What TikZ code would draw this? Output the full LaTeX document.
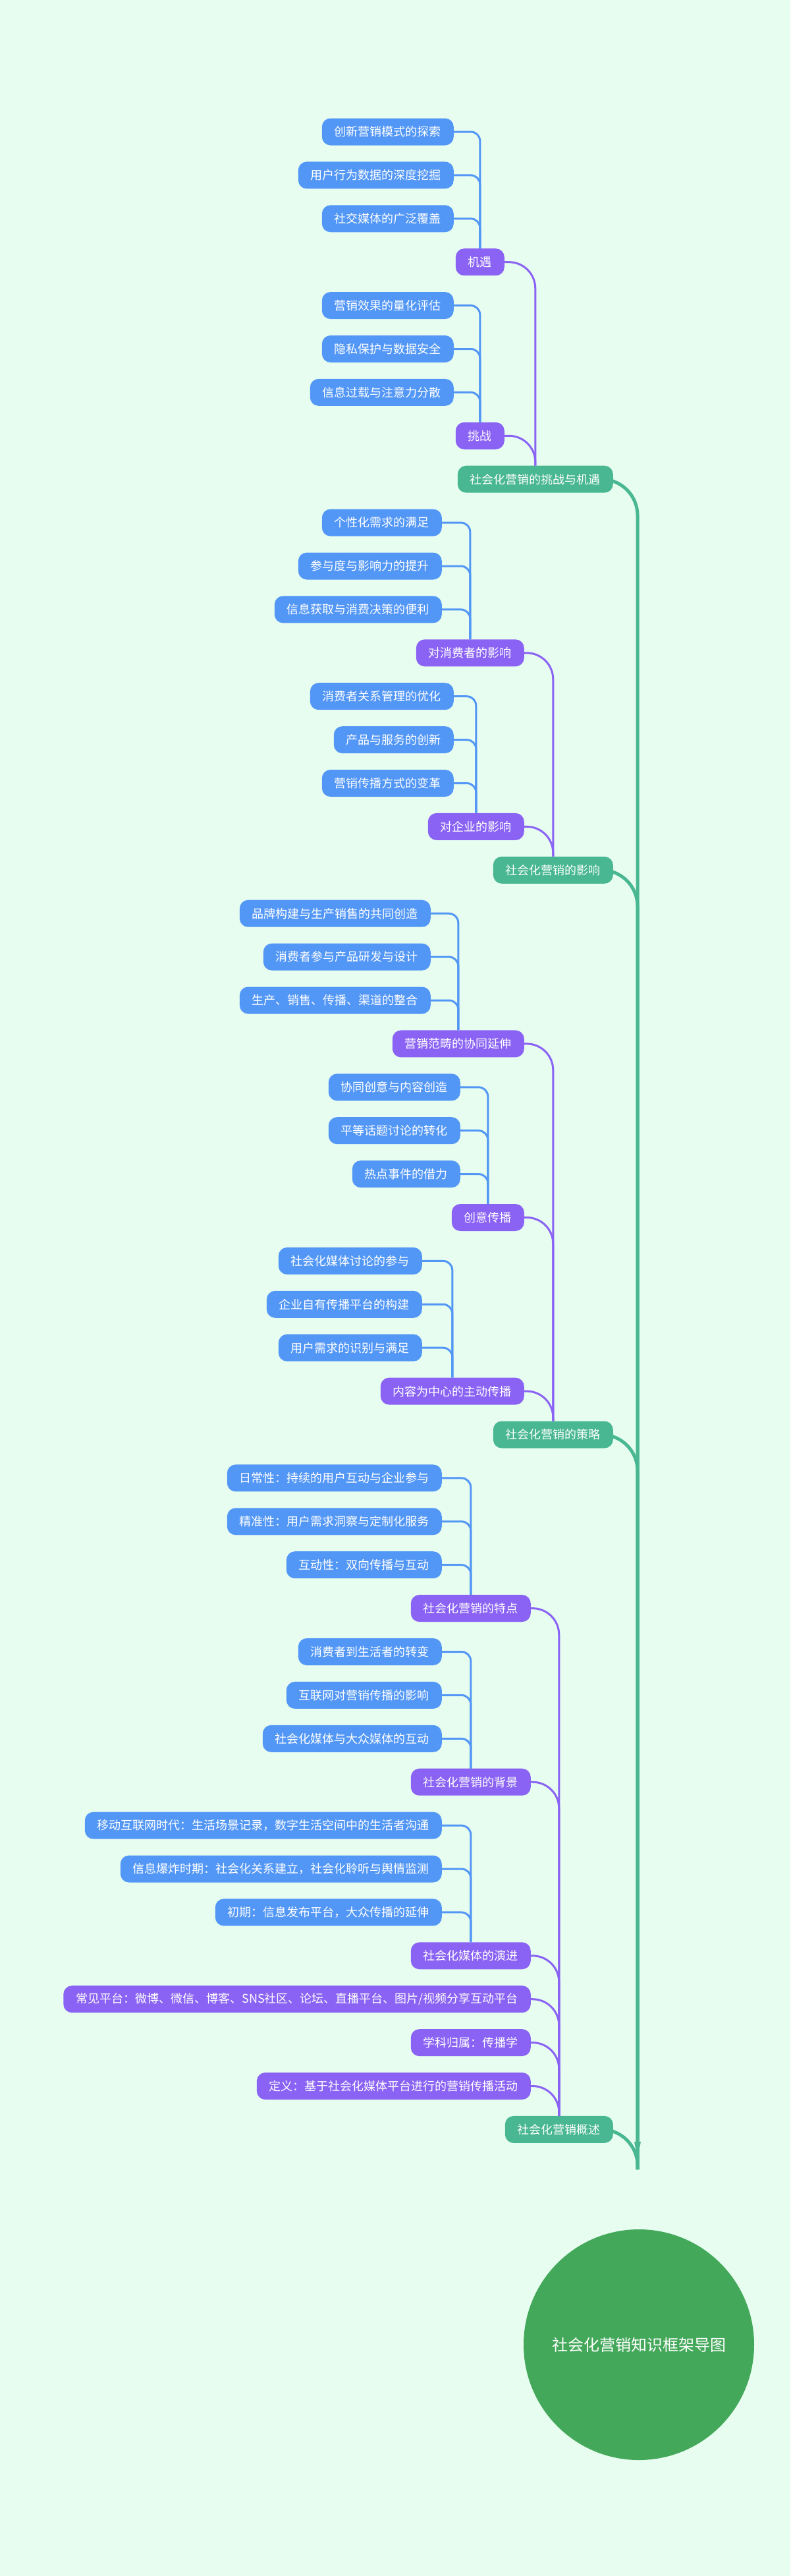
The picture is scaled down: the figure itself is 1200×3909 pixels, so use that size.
\documentclass[tikz,border=0pt]{standalone}
\usepackage{fontspec}
\setmainfont{Noto Sans CJK SC}
\definecolor{bg}{RGB}{231,253,240}
\definecolor{cblue}{RGB}{83,151,246}
\definecolor{cpur}{RGB}{138,99,244}
\definecolor{cteal}{RGB}{72,183,146}
\definecolor{croot}{RGB}{67,168,90}
\begin{document}
\begin{tikzpicture}[x=1pt,y=-1pt,
  box/.style={anchor=east,rounded corners=13pt,text=white,inner xsep=19pt,inner ysep=0pt,minimum height=41pt,font=\fontsize{18}{20}\selectfont},
  bl/.style={box,fill=cblue},
  pu/.style={box,fill=cpur},
  te/.style={box,fill=cteal},
  eb/.style={draw=cblue,line width=3pt,rounded corners=14pt},
  ep/.style={draw=cpur,line width=3pt,rounded corners=40pt},
  et/.style={draw=cteal,line width=5pt,rounded corners=55pt}]
\fill[bg] (0,0) rectangle (1200,3909);
\useasboundingbox (0,0) rectangle (1200,3909);
\def\Y#1{200+65.9*#1}
% group 1
\node[bl] (a1) at (689,{\Y0}) {创新营销模式的探索};
\node[bl] (a2) at (689,{\Y1}) {用户行为数据的深度挖掘};
\node[bl] (a3) at (689,{\Y2}) {社交媒体的广泛覆盖};
\node[pu] (A) at (766,{\Y3}) {机遇};
\node[bl] (b1) at (689,{\Y4}) {营销效果的量化评估};
\node[bl] (b2) at (689,{\Y5}) {隐私保护与数据安全};
\node[bl] (b3) at (689,{\Y6}) {信息过载与注意力分散};
\node[pu] (B) at (766,{\Y7}) {挑战};
\node[te] (T1) at (931,{\Y8}) {社会化营销的挑战与机遇};
% group 2
\node[bl] (c1) at (671,{\Y9}) {个性化需求的满足};
\node[bl] (c2) at (671,{\Y10}) {参与度与影响力的提升};
\node[bl] (c3) at (671,{\Y11}) {信息获取与消费决策的便利};
\node[pu] (C) at (796,{\Y12}) {对消费者的影响};
\node[bl] (d1) at (689,{\Y13}) {消费者关系管理的优化};
\node[bl] (d2) at (689,{\Y14}) {产品与服务的创新};
\node[bl] (d3) at (689,{\Y15}) {营销传播方式的变革};
\node[pu] (D) at (796,{\Y16}) {对企业的影响};
\node[te] (T2) at (931,{\Y17}) {社会化营销的影响};
% group 3
\node[bl] (e1) at (654,{\Y18}) {品牌构建与生产销售的共同创造};
\node[bl] (e2) at (654,{\Y19}) {消费者参与产品研发与设计};
\node[bl] (e3) at (654,{\Y20}) {生产、销售、传播、渠道的整合};
\node[pu] (E) at (796,{\Y21}) {营销范畴的协同延伸};
\node[bl] (f1) at (699,{\Y22}) {协同创意与内容创造};
\node[bl] (f2) at (699,{\Y23}) {平等话题讨论的转化};
\node[bl] (f3) at (699,{\Y24}) {热点事件的借力};
\node[pu] (F) at (796,{\Y25}) {创意传播};
\node[bl] (g1) at (641,{\Y26}) {社会化媒体讨论的参与};
\node[bl] (g2) at (641,{\Y27}) {企业自有传播平台的构建};
\node[bl] (g3) at (641,{\Y28}) {用户需求的识别与满足};
\node[pu] (G) at (796,{\Y29}) {内容为中心的主动传播};
\node[te] (T3) at (931,{\Y30}) {社会化营销的策略};
% group 4
\node[bl] (h1) at (671,{\Y31}) {日常性：持续的用户互动与企业参与};
\node[bl] (h2) at (671,{\Y32}) {精准性：用户需求洞察与定制化服务};
\node[bl] (h3) at (671,{\Y33}) {互动性：双向传播与互动};
\node[pu] (H) at (806,{\Y34}) {社会化营销的特点};
\node[bl] (i1) at (671,{\Y35}) {消费者到生活者的转变};
\node[bl] (i2) at (671,{\Y36}) {互联网对营销传播的影响};
\node[bl] (i3) at (671,{\Y37}) {社会化媒体与大众媒体的互动};
\node[pu] (I) at (806,{\Y38}) {社会化营销的背景};
\node[bl] (j1) at (671,{\Y39}) {移动互联网时代：生活场景记录，数字生活空间中的生活者沟通};
\node[bl] (j2) at (671,{\Y40}) {信息爆炸时期：社会化关系建立，社会化聆听与舆情监测};
\node[bl] (j3) at (671,{\Y41}) {初期：信息发布平台，大众传播的延伸};
\node[pu] (J) at (806,{\Y42}) {社会化媒体的演进};
\node[pu] (K) at (806,{\Y43}) {常见平台：微博、微信、博客、SNS社区、论坛、直播平台、图片/视频分享互动平台};
\node[pu] (L) at (806,{\Y44}) {学科归属：传播学};
\node[pu] (M) at (806,{\Y45}) {定义：基于社会化媒体平台进行的营销传播活动};
\node[te] (T4) at (931,{\Y46}) {社会化营销概述};
% root
\node[circle,fill=croot,minimum size=350pt,text=white,font=\fontsize{24}{28}\selectfont] (R) at (970,3558) {社会化营销知识框架导图};
\coordinate (tip) at (968,3272);
% edges blue
\foreach \c/\p in {a1/A,a2/A,a3/A,b1/B,b2/B,b3/B,c1/C,c2/C,c3/C,d1/D,d2/D,d3/D,e1/E,e2/E,e3/E,f1/F,f2/F,f3/F,g1/G,g2/G,g3/G,h1/H,h2/H,h3/H,i1/I,i2/I,i3/I,j1/J,j2/J,j3/J}
  \draw[eb] (\c.east) -| (\p.north);
% edges purple
\foreach \c/\p in {A/T1,B/T1,C/T2,D/T2,E/T3,F/T3,G/T3,H/T4,I/T4,J/T4,K/T4,L/T4,M/T4}
  \draw[ep] (\c.east) -| (\p.north);
% edges teal
\foreach \c in {T1,T2,T3,T4}
  \draw[et] (\c.east) -| ([yshift=-20pt]tip);
\fill[cteal] (963,3250) -- (973,3250) -- (968,3274) -- cycle;
\end{tikzpicture}
\end{document}
